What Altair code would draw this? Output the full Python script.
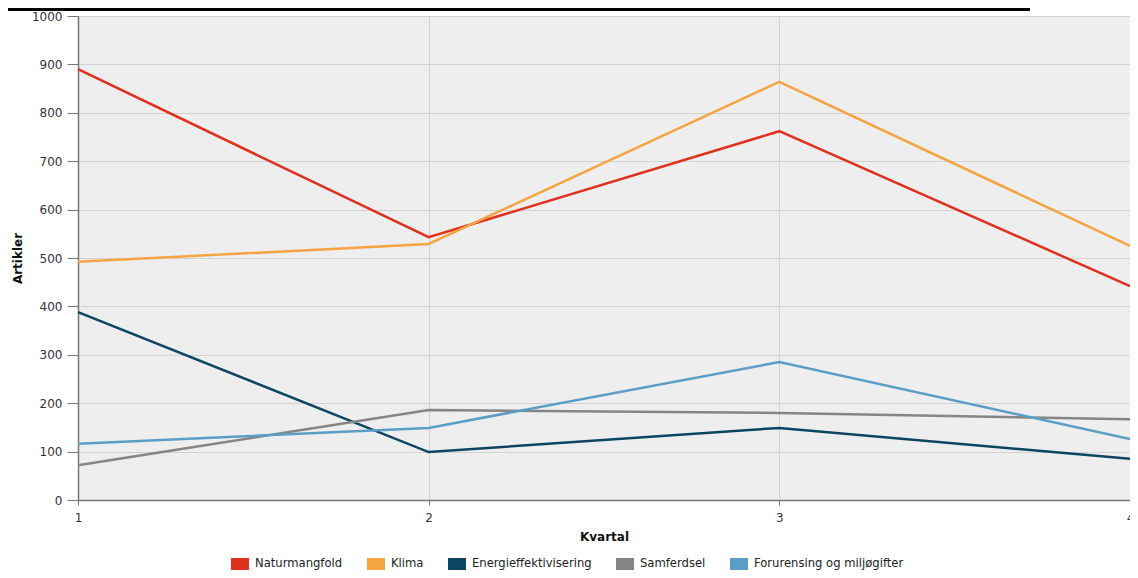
import altair as alt
import pandas as pd

quarters = [1, 2, 3, 4]
series_names = ["Naturmangfold", "Klima", "Energieffektivisering", "Samferdsel", "Forurensing og miljøgifter"]
naturmangfold = [890, 543, 762, 442]
klima = [492, 529, 864, 525]
energi = [388, 99, 149, 85]
samferdsel = [72, 186, 180, 167]
forurensing = [116, 149, 285, 126]
colors = ["#e0301e", "#f5a441", "#0b4562", "#858585", "#5a9ec6"]
y_ticks = [0, 100, 200, 300, 400, 500, 600, 700, 800, 900, 1000]
x_ticks = [1, 2, 3, 4]

values = [naturmangfold, klima, energi, samferdsel, forurensing]
rows = []
for name, vals in zip(series_names, values):
    for q, v in zip(quarters, vals):
        rows.append({"Kvartal": q, "Artikler": v, "Serie": name})
df = pd.DataFrame(rows)

x_enc = alt.X("Kvartal:Q", scale=alt.Scale(domain=[1, 4], nice=False, zero=False),
              axis=alt.Axis(values=x_ticks, format="d", title="Kvartal", tickSize=5,
                            labelPadding=7, titlePadding=8, labelFlush=False))
y_enc = alt.Y("Artikler:Q", scale=alt.Scale(domain=[0, 1000], nice=False),
              axis=alt.Axis(values=y_ticks, format="d", title="Artikler", tickSize=11,
                            labelPadding=5, titlePadding=7, labelFlush=False))

lines = alt.Chart(df).mark_line(strokeWidth=2.5).encode(
    x=x_enc,
    y=y_enc,
    stroke=alt.Stroke("Serie:N", scale=alt.Scale(domain=series_names, range=colors),
                      sort=series_names,
                      legend=alt.Legend(title=None, orient="none", direction="horizontal",
                                        legendX=147, legendY=533,
                                        symbolType="M-1,0H1", symbolSize=324,
                                        symbolStrokeWidth=12,
                                        labelFontSize=11.6, labelColor="#222222", labelOffset=0,
                                        columnPadding=0, labelFont="DejaVu Sans")),
    detail="Serie:N",
)

top_bar = alt.Chart(pd.DataFrame({"a": [0]})).mark_rule(color="black", strokeWidth=3).encode(
    x=alt.value(-78), x2=alt.value(952), y=alt.value(-6.5)
)

chart = alt.layer(lines, top_bar).properties(
    width=1052, height=484,
    autosize=alt.AutoSizeParams(type="none"),
    padding={"left": 70, "top": 8, "right": 0, "bottom": 70},
).configure(font="DejaVu Sans").configure_view(
    fill="#eeeeee", strokeWidth=0
).configure_axis(
    domainColor="#777777", domainWidth=1.5, tickColor="#777777", gridColor="#d2d2d2",
    labelFontSize=12, labelColor="#333333", titleFontSize=12, titleFontWeight="bold",
    titleColor="#111111", labelFont="DejaVu Sans", titleFont="DejaVu Sans"
)

chart.save("out.html", embed_options={"renderer": "svg", "actions": False})
